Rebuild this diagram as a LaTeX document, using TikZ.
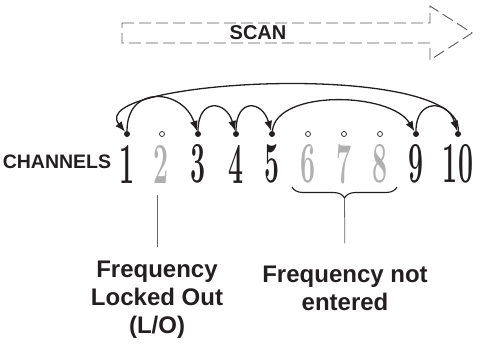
\documentclass[tikz,border=0pt]{standalone}
\usepackage{fontspec}
\usepackage{graphicx}
\newfontfamily\labelfont{Liberation Sans}
\usetikzlibrary{arrows.meta,decorations.pathreplacing}
\definecolor{ink}{HTML}{231F20}
\definecolor{lightink}{HTML}{B0B0B0}
\definecolor{scangray}{HTML}{5A5A5A}
\newcommand{\slimnum}[1]{\scalebox{0.46}[1]{#1}}

\begin{document}
\begin{tikzpicture}[x=1pt,y=-1pt,
      dot/.style={circle, fill=ink, inner sep=0pt, minimum size=6pt},
      skipdot/.style={circle, draw=ink, line width=0.7pt, inner sep=0pt,
        minimum size=5pt},
      chan/.style={text=ink, inner sep=0pt,
        font=\fontsize{58}{58}\selectfont\bfseries},
      lockedchan/.style={chan, text=lightink},
      hop/.style={draw=ink, line width=1.3pt, -{Latex[length=10pt,width=8pt]}},
      callout/.style={text=ink, inner sep=0pt, align=center,
        font=\labelfont\bfseries\fontsize{24}{28}\selectfont},
      pointer/.style={draw=gray!80!black, line width=0.8pt}]

    \useasboundingbox (0,0) rectangle (481,346);

    \draw[scangray, line width=0.9pt, dash pattern=on 12pt off 5pt]
      (122,23) -- (430,23) -- (430,6) -- (472,33) -- (430,60)
      -- (430,43) -- (122,43) -- cycle;
    \node[text=ink, font=\labelfont\bfseries\fontsize{20}{20}\selectfont]
      (scan) at (258,33) {SCAN};

    \node[text=ink, inner sep=0pt,
      font=\labelfont\bfseries\fontsize{19.5}{20}\selectfont]
      (chlabel) at (57,162) {CHANNELS};

    \node[chan] (n1) at (127,164) {\slimnum{1}};
    \node[lockedchan] (n2) at (161,164) {\slimnum{2}};
    \node[chan] (n3) at (198,164) {\slimnum{3}};
    \node[chan] (n4) at (236,164) {\slimnum{4}};
    \node[chan] (n5) at (272,164) {\slimnum{5}};
    \node[lockedchan] (n6) at (308,164) {\slimnum{6}};
    \node[lockedchan] (n7) at (344,164) {\slimnum{7}};
    \node[lockedchan] (n8) at (380,164) {\slimnum{8}};
    \node[chan] (n9) at (416,164) {\slimnum{9}};
    \node[chan] (n10) at (458,164) {\slimnum{10}};

    \node[dot] (d1) at (127,134) {};
    \node[skipdot] (d2) at (162,134) {};
    \node[dot] (d3) at (198,134) {};
    \node[dot] (d4) at (236,134) {};
    \node[dot] (d5) at (272,134) {};
    \node[skipdot] (d6) at (308,134) {};
    \node[skipdot] (d7) at (344,134) {};
    \node[skipdot] (d8) at (380,134) {};
    \node[dot] (d9) at (416,134) {};
    \node[dot] (d10) at (458,134) {};

    \draw[hop] (d1) .. controls +(0,-50) and +(-15,-45) .. (d3);
    \draw[hop] (d3) .. controls +(0,-36) and +(-10,-34) .. (d4);
    \draw[hop] (d4) .. controls +(0,-36) and +(-10,-34) .. (d5);
    \draw[hop] (d5) .. controls +(5,-45) and +(-25,-42) .. (d9);
    \draw[hop] (d9) .. controls +(0,-36) and +(-10,-34) .. (d10);
    \draw[hop] (d10) .. controls +(5,-75) and +(-45,-55) .. (d1);

    \draw[ink, line width=1.1pt, decorate,
      decoration={brace, mirror, amplitude=11pt}] (292,187) -- (397,187);
    \coordinate (bt) at (344.5,198);

    \node[callout] (lo) at (157,300) {Frequency\\Locked Out\\(L/O)};
    \node[callout] (ne) at (345,288) {Frequency not\\entered};

    \draw[pointer, shorten <=12pt, shorten >=14pt]
      (lo.north |- n2.south) -- (lo.north);
    \draw[pointer, shorten >=22pt] (bt) -- (ne.north);

  \end{tikzpicture}
\end{document}
